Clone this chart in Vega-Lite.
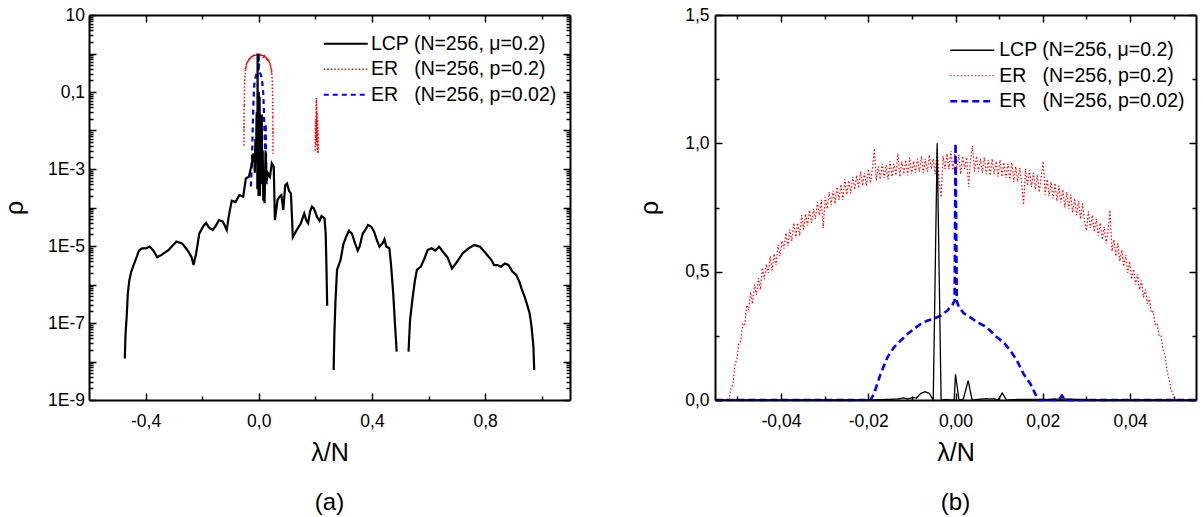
{
"$schema": "https://vega.github.io/schema/vega-lite/v6.json",
"background": "white",
"padding": {"left": 2, "top": 6, "right": 0, "bottom": 0},
"config": {
  "font": "Liberation Sans",
  "view": {"stroke": null},
  "axis": {"domainColor": "black", "domainWidth": 2, "tickColor": "black", "tickWidth": 1.5, "labelFont": "Liberation Sans", "labelFontSize": 17.5, "labelColor": "black", "titleFont": "Liberation Sans", "titleFontSize": 25, "titleFontWeight": "normal", "titleColor": "black", "grid": false, "labelOverlap": false, "labelFlush": false},
  "legend": {"labelLimit": 400, "padding": 0, "labelFont": "Liberation Sans", "labelFontSize": 19.5, "labelColor": "black", "rowPadding": 4.5},
  "title": {"font": "Liberation Sans", "fontSize": 24, "fontWeight": "normal", "color": "black"}
},
"datasets": {
"left": [
{"s":"LCP","g":1,"x":-0.4735,"y":1.2e-8},{"s":"LCP","g":1,"x":-0.4708,"y":5.4e-8},{"s":"LCP","g":1,"x":-0.4668,"y":1.46e-7},{"s":"LCP","g":1,"x":-0.4627,"y":5.9e-7},{"s":"LCP","g":1,"x":-0.4573,"y":1.31e-6},{"s":"LCP","g":1,"x":-0.4506,"y":2.15e-6},{"s":"LCP","g":1,"x":-0.4425,"y":3.2e-6},{"s":"LCP","g":1,"x":-0.433,"y":4.8e-6},{"s":"LCP","g":1,"x":-0.4236,"y":7.6e-6},{"s":"LCP","g":1,"x":-0.4128,"y":8.7e-6},{"s":"LCP","g":1,"x":-0.3993,"y":8.7e-6},{"s":"LCP","g":1,"x":-0.3858,"y":9.6e-6},{"s":"LCP","g":1,"x":-0.3723,"y":7.6e-6},{"s":"LCP","g":1,"x":-0.3588,"y":5.1e-6},{"s":"LCP","g":1,"x":-0.3453,"y":5.8e-6},{"s":"LCP","g":1,"x":-0.3183,"y":7.9e-6},{"s":"LCP","g":1,"x":-0.2913,"y":1.3e-5},{"s":"LCP","g":1,"x":-0.271,"y":1.17e-5},{"s":"LCP","g":1,"x":-0.2508,"y":7.6e-6},{"s":"LCP","g":1,"x":-0.2373,"y":5.1e-6},{"s":"LCP","g":1,"x":-0.2305,"y":3.2e-6},{"s":"LCP","g":1,"x":-0.2211,"y":6.5e-6},{"s":"LCP","g":1,"x":-0.2103,"y":2.1e-5},{"s":"LCP","g":1,"x":-0.1968,"y":3.2e-5},{"s":"LCP","g":1,"x":-0.186,"y":4.0e-5},{"s":"LCP","g":1,"x":-0.1765,"y":3.05e-5},{"s":"LCP","g":1,"x":-0.163,"y":2.6e-5},{"s":"LCP","g":1,"x":-0.1536,"y":3.2e-5},{"s":"LCP","g":1,"x":-0.1401,"y":4.7e-5},{"s":"LCP","g":1,"x":-0.1266,"y":4.3e-5},{"s":"LCP","g":1,"x":-0.1131,"y":2.6e-5},{"s":"LCP","g":1,"x":-0.1063,"y":5.8e-5},{"s":"LCP","g":1,"x":-0.0955,"y":1.5e-4},{"s":"LCP","g":1,"x":-0.082,"y":1.39e-4},{"s":"LCP","g":1,"x":-0.0685,"y":2.1e-4},{"s":"LCP","g":1,"x":-0.055,"y":1.9e-4},{"s":"LCP","g":1,"x":-0.0456,"y":5.7e-4},{"s":"LCP","g":1,"x":-0.0348,"y":6.3e-4},{"s":"LCP","g":1,"x":-0.0267,"y":1.15e-3},{"s":"LCP","g":1,"x":-0.0186,"y":2.55e-3},
{"s":"LCP","g":1,"x":-0.016,"y":2e-3},{"s":"LCP","g":1,"x":-0.014,"y":8e-4},{"s":"LCP","g":1,"x":-0.012,"y":6e-3},{"s":"LCP","g":1,"x":-0.010,"y":1.5e-3},{"s":"LCP","g":1,"x":-0.008,"y":0.02},{"s":"LCP","g":1,"x":-0.007,"y":0.03},{"s":"LCP","g":1,"x":-0.006,"y":0.02},{"s":"LCP","g":1,"x":-0.005,"y":3e-4},{"s":"LCP","g":1,"x":-0.0041,"y":1.0},{"s":"LCP","g":1,"x":-0.0033,"y":5e-4},{"s":"LCP","g":1,"x":-0.002,"y":0.005},{"s":"LCP","g":1,"x":-0.001,"y":2e-4},{"s":"LCP","g":1,"x":0.0,"y":0.1},{"s":"LCP","g":1,"x":0.001,"y":1e-3},{"s":"LCP","g":1,"x":0.002,"y":3e-4},{"s":"LCP","g":1,"x":0.003,"y":0.075},{"s":"LCP","g":1,"x":0.004,"y":2e-4},{"s":"LCP","g":1,"x":0.006,"y":0.004},{"s":"LCP","g":1,"x":0.008,"y":0.006},{"s":"LCP","g":1,"x":0.0095,"y":4e-4},{"s":"LCP","g":1,"x":0.0107,"y":0.026},{"s":"LCP","g":1,"x":0.012,"y":1e-3},{"s":"LCP","g":1,"x":0.014,"y":3e-3},{"s":"LCP","g":1,"x":0.016,"y":1.5e-4},{"s":"LCP","g":1,"x":0.018,"y":1e-3},{"s":"LCP","g":1,"x":0.0205,"y":1.3e-4},{"s":"LCP","g":1,"x":0.024,"y":3e-3},{"s":"LCP","g":1,"x":0.028,"y":5e-4},{"s":"LCP","g":1,"x":0.0327,"y":7.7e-4},{"s":"LCP","g":1,"x":0.0394,"y":6.3e-4},{"s":"LCP","g":1,"x":0.0462,"y":1.4e-3},{"s":"LCP","g":1,"x":0.0529,"y":1.15e-3},{"s":"LCP","g":1,"x":0.057,"y":4.7e-5},{"s":"LCP","g":1,"x":0.0664,"y":1.57e-4},{"s":"LCP","g":1,"x":0.0732,"y":1.9e-4},{"s":"LCP","g":1,"x":0.0799,"y":2.1e-4},{"s":"LCP","g":1,"x":0.0867,"y":8.6e-5},{"s":"LCP","g":1,"x":0.0934,"y":3.8e-4},{"s":"LCP","g":1,"x":0.1002,"y":4.2e-4},{"s":"LCP","g":1,"x":0.1069,"y":2.7e-4},{"s":"LCP","g":1,"x":0.1137,"y":2.3e-4},{"s":"LCP","g":1,"x":0.1204,"y":1.7e-5},{"s":"LCP","g":1,"x":0.1339,"y":2.6e-5},{"s":"LCP","g":1,"x":0.1474,"y":3.7e-5},{"s":"LCP","g":1,"x":0.1609,"y":7.0e-5},{"s":"LCP","g":1,"x":0.1677,"y":4.7e-5},{"s":"LCP","g":1,"x":0.1744,"y":3.9e-5},{"s":"LCP","g":1,"x":0.1812,"y":7.8e-5},{"s":"LCP","g":1,"x":0.1879,"y":1.05e-4},{"s":"LCP","g":1,"x":0.1947,"y":9.5e-5},{"s":"LCP","g":1,"x":0.2055,"y":5.8e-5},{"s":"LCP","g":1,"x":0.2149,"y":4.5e-5},{"s":"LCP","g":1,"x":0.2217,"y":6.0e-5},{"s":"LCP","g":1,"x":0.2325,"y":5.2e-5},{"s":"LCP","g":1,"x":0.2365,"y":2.1e-5},{"s":"LCP","g":1,"x":0.2392,"y":2.9e-6},{"s":"LCP","g":1,"x":0.2419,"y":2.8e-7},
{"s":"LCP","g":2,"x":0.2646,"y":6.0e-9},{"s":"LCP","g":2,"x":0.2673,"y":5.4e-8},{"s":"LCP","g":2,"x":0.2713,"y":4.0e-7},{"s":"LCP","g":2,"x":0.2767,"y":2.4e-6},{"s":"LCP","g":2,"x":0.2889,"y":4.3e-6},{"s":"LCP","g":2,"x":0.2997,"y":1.17e-5},{"s":"LCP","g":2,"x":0.3091,"y":1.75e-5},{"s":"LCP","g":2,"x":0.3186,"y":2.5e-5},{"s":"LCP","g":2,"x":0.3294,"y":2.1e-5},{"s":"LCP","g":2,"x":0.3402,"y":1.17e-5},{"s":"LCP","g":2,"x":0.3497,"y":7.6e-6},{"s":"LCP","g":2,"x":0.3564,"y":9.6e-6},{"s":"LCP","g":2,"x":0.3672,"y":2.1e-5},{"s":"LCP","g":2,"x":0.3767,"y":2.6e-5},{"s":"LCP","g":2,"x":0.3861,"y":3.5e-5},{"s":"LCP","g":2,"x":0.3969,"y":3.2e-5},{"s":"LCP","g":2,"x":0.4077,"y":2.35e-5},{"s":"LCP","g":2,"x":0.4172,"y":1.43e-5},{"s":"LCP","g":2,"x":0.4266,"y":9.6e-6},{"s":"LCP","g":2,"x":0.4374,"y":1.17e-5},{"s":"LCP","g":2,"x":0.4442,"y":1.49e-5},{"s":"LCP","g":2,"x":0.4509,"y":9.6e-6},{"s":"LCP","g":2,"x":0.4617,"y":8.7e-6},{"s":"LCP","g":2,"x":0.4671,"y":3.5e-6},{"s":"LCP","g":2,"x":0.4752,"y":5.9e-7},{"s":"LCP","g":2,"x":0.4806,"y":1.2e-7},{"s":"LCP","g":2,"x":0.4874,"y":1.8e-8},
{"s":"LCP","g":3,"x":0.5293,"y":1.8e-8},{"s":"LCP","g":3,"x":0.5347,"y":1.2e-7},{"s":"LCP","g":3,"x":0.5428,"y":4.0e-7},{"s":"LCP","g":3,"x":0.5522,"y":1.3e-6},{"s":"LCP","g":3,"x":0.559,"y":2.4e-6},{"s":"LCP","g":3,"x":0.5725,"y":2.9e-6},{"s":"LCP","g":3,"x":0.586,"y":4.8e-6},{"s":"LCP","g":3,"x":0.5968,"y":7.9e-6},{"s":"LCP","g":3,"x":0.6103,"y":8.7e-6},{"s":"LCP","g":3,"x":0.6238,"y":7.6e-6},{"s":"LCP","g":3,"x":0.6373,"y":9.6e-6},{"s":"LCP","g":3,"x":0.6508,"y":7.1e-6},{"s":"LCP","g":3,"x":0.667,"y":5.1e-6},{"s":"LCP","g":3,"x":0.6832,"y":2.6e-6},{"s":"LCP","g":3,"x":0.7008,"y":3.9e-6},{"s":"LCP","g":3,"x":0.7211,"y":6.5e-6},{"s":"LCP","g":3,"x":0.7413,"y":8.7e-6},{"s":"LCP","g":3,"x":0.7616,"y":1.06e-5},{"s":"LCP","g":3,"x":0.7818,"y":9.6e-6},{"s":"LCP","g":3,"x":0.8021,"y":6.5e-6},{"s":"LCP","g":3,"x":0.8223,"y":4.3e-6},{"s":"LCP","g":3,"x":0.8318,"y":3.2e-6},{"s":"LCP","g":3,"x":0.8426,"y":3.2e-6},{"s":"LCP","g":3,"x":0.8561,"y":2.9e-6},{"s":"LCP","g":3,"x":0.8696,"y":3.5e-6},{"s":"LCP","g":3,"x":0.8831,"y":3.2e-6},{"s":"LCP","g":3,"x":0.8966,"y":2.15e-6},{"s":"LCP","g":3,"x":0.9101,"y":1.77e-6},{"s":"LCP","g":3,"x":0.9209,"y":1.19e-6},{"s":"LCP","g":3,"x":0.9303,"y":7.2e-7},{"s":"LCP","g":3,"x":0.9398,"y":4.8e-7},{"s":"LCP","g":3,"x":0.9506,"y":2.65e-7},{"s":"LCP","g":3,"x":0.9573,"y":1.78e-7},{"s":"LCP","g":3,"x":0.9641,"y":8.0e-8},{"s":"LCP","g":3,"x":0.9708,"y":2.4e-8},{"s":"LCP","g":3,"x":0.9735,"y":6.0e-9},
{"s":"ER02","g":1,"x":-0.0522,"y":0.004},{"s":"ER02","g":1,"x":-0.0521,"y":0.015},{"s":"ER02","g":1,"x":-0.05195,"y":0.01},{"s":"ER02","g":1,"x":-0.0518,"y":0.03},{"s":"ER02","g":1,"x":-0.05145,"y":0.045},
{"s":"ER02","g":3,"x":0.0498,"y":0.022},{"s":"ER02","g":3,"x":0.05,"y":0.008},{"s":"ER02","g":3,"x":0.0502,"y":0.012},{"s":"ER02","g":3,"x":0.0503,"y":0.0025},
{"s":"ER02","g":2,"x":0.199,"y":0.003},{"s":"ER02","g":2,"x":0.2005,"y":0.02},{"s":"ER02","g":2,"x":0.202,"y":0.004},{"s":"ER02","g":2,"x":0.203,"y":0.05},{"s":"ER02","g":2,"x":0.204,"y":0.07},{"s":"ER02","g":2,"x":0.205,"y":0.005},{"s":"ER02","g":2,"x":0.206,"y":0.03},{"s":"ER02","g":2,"x":0.207,"y":0.003},{"s":"ER02","g":2,"x":0.208,"y":0.02},{"s":"ER02","g":2,"x":0.209,"y":0.0025},{"s":"ER02","g":2,"x":0.2095,"y":0.01},{"s":"ER02","g":2,"x":0.21,"y":0.0025},
{"s":"ER002","g":1,"x":-0.028,"y":3.5e-4},{"s":"ER002","g":1,"x":-0.025,"y":1e-3},{"s":"ER002","g":1,"x":-0.0225,"y":5e-3},{"s":"ER002","g":1,"x":-0.0205,"y":0.02},{"s":"ER002","g":1,"x":-0.0185,"y":0.06},{"s":"ER002","g":1,"x":-0.016,"y":0.15},{"s":"ER002","g":1,"x":-0.012,"y":0.23},{"s":"ER002","g":1,"x":-0.008,"y":0.29},{"s":"ER002","g":1,"x":-0.004,"y":0.32},{"s":"ER002","g":1,"x":-0.001,"y":0.36},{"s":"ER002","g":1,"x":0.0,"y":1.0},{"s":"ER002","g":1,"x":0.001,"y":0.37},{"s":"ER002","g":1,"x":0.004,"y":0.32},{"s":"ER002","g":1,"x":0.008,"y":0.27},{"s":"ER002","g":1,"x":0.012,"y":0.19},{"s":"ER002","g":1,"x":0.016,"y":0.09},{"s":"ER002","g":1,"x":0.018,"y":0.035},{"s":"ER002","g":1,"x":0.0205,"y":0.008},{"s":"ER002","g":1,"x":0.023,"y":3e-3},{"s":"ER002","g":1,"x":0.0245,"y":0.015},{"s":"ER002","g":1,"x":0.026,"y":1.5e-3},{"s":"ER002","g":1,"x":0.028,"y":4e-4}
],
"right": [
{"s":"ER02","x":-0.0519,"y":0},{"s":"ER02","x":-0.05145,"y":0.045},{"s":"ER02","x":-0.051,"y":0.06},{"s":"ER02","x":-0.05055,"y":0.135},{"s":"ER02","x":-0.0501,"y":0.16},{"s":"ER02","x":-0.04965,"y":0.22},{"s":"ER02","x":-0.0492,"y":0.23},{"s":"ER02","x":-0.04875,"y":0.295},{"s":"ER02","x":-0.0483,"y":0.29},{"s":"ER02","x":-0.04785,"y":0.37},{"s":"ER02","x":-0.0474,"y":0.35},{"s":"ER02","x":-0.04695,"y":0.42},{"s":"ER02","x":-0.0465,"y":0.375},{"s":"ER02","x":-0.04605,"y":0.45},{"s":"ER02","x":-0.0456,"y":0.41},{"s":"ER02","x":-0.04515,"y":0.475},{"s":"ER02","x":-0.0447,"y":0.43},{"s":"ER02","x":-0.04425,"y":0.515},{"s":"ER02","x":-0.0438,"y":0.47},{"s":"ER02","x":-0.04335,"y":0.53},{"s":"ER02","x":-0.0429,"y":0.495},{"s":"ER02","x":-0.04245,"y":0.56},{"s":"ER02","x":-0.042,"y":0.505},{"s":"ER02","x":-0.04155,"y":0.57},{"s":"ER02","x":-0.0411,"y":0.525},{"s":"ER02","x":-0.04065,"y":0.605},{"s":"ER02","x":-0.0402,"y":0.56},{"s":"ER02","x":-0.03975,"y":0.62},{"s":"ER02","x":-0.0393,"y":0.59},{"s":"ER02","x":-0.03885,"y":0.65},{"s":"ER02","x":-0.0384,"y":0.6},{"s":"ER02","x":-0.03795,"y":0.665},{"s":"ER02","x":-0.0375,"y":0.62},{"s":"ER02","x":-0.03705,"y":0.69},{"s":"ER02","x":-0.0366,"y":0.635},{"s":"ER02","x":-0.03615,"y":0.69},{"s":"ER02","x":-0.0357,"y":0.64},{"s":"ER02","x":-0.03525,"y":0.72},{"s":"ER02","x":-0.0348,"y":0.665},{"s":"ER02","x":-0.03435,"y":0.725},{"s":"ER02","x":-0.0339,"y":0.68},{"s":"ER02","x":-0.03345,"y":0.74},{"s":"ER02","x":-0.033,"y":0.69},{"s":"ER02","x":-0.03255,"y":0.745},{"s":"ER02","x":-0.0321,"y":0.705},{"s":"ER02","x":-0.03165,"y":0.77},{"s":"ER02","x":-0.0312,"y":0.72},{"s":"ER02","x":-0.03075,"y":0.78},{"s":"ER02","x":-0.0303,"y":0.67},{"s":"ER02","x":-0.02985,"y":0.79},{"s":"ER02","x":-0.0294,"y":0.745},{"s":"ER02","x":-0.02895,"y":0.81},{"s":"ER02","x":-0.0285,"y":0.76},{"s":"ER02","x":-0.02805,"y":0.815},{"s":"ER02","x":-0.0276,"y":0.765},{"s":"ER02","x":-0.02715,"y":0.83},{"s":"ER02","x":-0.0267,"y":0.78},{"s":"ER02","x":-0.02625,"y":0.84},{"s":"ER02","x":-0.0258,"y":0.78},{"s":"ER02","x":-0.02535,"y":0.86},{"s":"ER02","x":-0.0249,"y":0.8},{"s":"ER02","x":-0.02445,"y":0.855},{"s":"ER02","x":-0.024,"y":0.805},{"s":"ER02","x":-0.02355,"y":0.87},{"s":"ER02","x":-0.0231,"y":0.82},{"s":"ER02","x":-0.02265,"y":0.875},{"s":"ER02","x":-0.0222,"y":0.825},{"s":"ER02","x":-0.02175,"y":0.89},{"s":"ER02","x":-0.0213,"y":0.835},{"s":"ER02","x":-0.02085,"y":0.885},{"s":"ER02","x":-0.0204,"y":0.835},{"s":"ER02","x":-0.01995,"y":0.9},{"s":"ER02","x":-0.0195,"y":0.845},{"s":"ER02","x":-0.01905,"y":0.9},{"s":"ER02","x":-0.0186,"y":0.98},{"s":"ER02","x":-0.01815,"y":0.855},{"s":"ER02","x":-0.0177,"y":0.91},{"s":"ER02","x":-0.01725,"y":0.86},{"s":"ER02","x":-0.0168,"y":0.92},{"s":"ER02","x":-0.01635,"y":0.865},{"s":"ER02","x":-0.0159,"y":0.915},{"s":"ER02","x":-0.01545,"y":0.86},{"s":"ER02","x":-0.015,"y":0.93},{"s":"ER02","x":-0.01455,"y":0.87},{"s":"ER02","x":-0.0141,"y":0.92},{"s":"ER02","x":-0.01365,"y":0.875},{"s":"ER02","x":-0.0132,"y":0.96},{"s":"ER02","x":-0.01275,"y":0.87},{"s":"ER02","x":-0.0123,"y":0.93},{"s":"ER02","x":-0.01185,"y":0.88},{"s":"ER02","x":-0.0114,"y":0.935},{"s":"ER02","x":-0.01095,"y":0.875},{"s":"ER02","x":-0.0105,"y":0.945},{"s":"ER02","x":-0.01005,"y":0.88},{"s":"ER02","x":-0.0096,"y":0.93},{"s":"ER02","x":-0.00915,"y":0.885},{"s":"ER02","x":-0.0087,"y":0.94},{"s":"ER02","x":-0.00825,"y":0.89},{"s":"ER02","x":-0.0078,"y":0.95},{"s":"ER02","x":-0.00735,"y":0.885},{"s":"ER02","x":-0.0069,"y":0.94},{"s":"ER02","x":-0.00645,"y":0.89},{"s":"ER02","x":-0.006,"y":0.955},{"s":"ER02","x":-0.00555,"y":0.9},{"s":"ER02","x":-0.0051,"y":0.94},{"s":"ER02","x":-0.00465,"y":0.88},{"s":"ER02","x":-0.0042,"y":0.98},{"s":"ER02","x":-0.00375,"y":0.85},{"s":"ER02","x":-0.0033,"y":0.79},{"s":"ER02","x":-0.00285,"y":0.95},{"s":"ER02","x":-0.0024,"y":0.9},{"s":"ER02","x":-0.00195,"y":0.96},{"s":"ER02","x":-0.0015,"y":0.9},{"s":"ER02","x":-0.00105,"y":0.97},{"s":"ER02","x":-0.0006,"y":0.895},{"s":"ER02","x":-0.00015,"y":0.96},{"s":"ER02","x":0.0003,"y":0.9},{"s":"ER02","x":0.00075,"y":0.955},{"s":"ER02","x":0.0012,"y":0.88},{"s":"ER02","x":0.00165,"y":0.95},{"s":"ER02","x":0.0021,"y":0.9},{"s":"ER02","x":0.00255,"y":0.945},{"s":"ER02","x":0.003,"y":0.83},{"s":"ER02","x":0.00345,"y":0.94},{"s":"ER02","x":0.0039,"y":0.99},{"s":"ER02","x":0.00435,"y":0.89},{"s":"ER02","x":0.0048,"y":0.95},{"s":"ER02","x":0.00525,"y":0.89},{"s":"ER02","x":0.0057,"y":0.94},{"s":"ER02","x":0.00615,"y":0.885},{"s":"ER02","x":0.0066,"y":0.945},{"s":"ER02","x":0.00705,"y":0.88},{"s":"ER02","x":0.0075,"y":0.935},{"s":"ER02","x":0.00795,"y":0.875},{"s":"ER02","x":0.0084,"y":0.94},{"s":"ER02","x":0.00885,"y":0.88},{"s":"ER02","x":0.0093,"y":0.93},{"s":"ER02","x":0.00975,"y":0.87},{"s":"ER02","x":0.0102,"y":0.935},{"s":"ER02","x":0.01065,"y":0.87},{"s":"ER02","x":0.0111,"y":0.925},{"s":"ER02","x":0.01155,"y":0.865},{"s":"ER02","x":0.012,"y":0.92},{"s":"ER02","x":0.01245,"y":0.86},{"s":"ER02","x":0.0129,"y":0.925},{"s":"ER02","x":0.01335,"y":0.85},{"s":"ER02","x":0.0138,"y":0.91},{"s":"ER02","x":0.01425,"y":0.85},{"s":"ER02","x":0.0147,"y":0.905},{"s":"ER02","x":0.01515,"y":0.845},{"s":"ER02","x":0.0156,"y":0.76},{"s":"ER02","x":0.01605,"y":0.9},{"s":"ER02","x":0.0165,"y":0.835},{"s":"ER02","x":0.01695,"y":0.895},{"s":"ER02","x":0.0174,"y":0.83},{"s":"ER02","x":0.01785,"y":0.885},{"s":"ER02","x":0.0183,"y":0.82},{"s":"ER02","x":0.01875,"y":0.875},{"s":"ER02","x":0.0192,"y":0.81},{"s":"ER02","x":0.01965,"y":0.87},{"s":"ER02","x":0.0201,"y":0.93},{"s":"ER02","x":0.02055,"y":0.8},{"s":"ER02","x":0.021,"y":0.86},{"s":"ER02","x":0.02145,"y":0.795},{"s":"ER02","x":0.0219,"y":0.85},{"s":"ER02","x":0.02235,"y":0.785},{"s":"ER02","x":0.0228,"y":0.845},{"s":"ER02","x":0.02325,"y":0.775},{"s":"ER02","x":0.0237,"y":0.835},{"s":"ER02","x":0.02415,"y":0.77},{"s":"ER02","x":0.0246,"y":0.82},{"s":"ER02","x":0.02505,"y":0.75},{"s":"ER02","x":0.0255,"y":0.81},{"s":"ER02","x":0.02595,"y":0.745},{"s":"ER02","x":0.0264,"y":0.8},{"s":"ER02","x":0.02685,"y":0.73},{"s":"ER02","x":0.0273,"y":0.785},{"s":"ER02","x":0.02775,"y":0.72},{"s":"ER02","x":0.0282,"y":0.775},{"s":"ER02","x":0.02865,"y":0.705},{"s":"ER02","x":0.0291,"y":0.765},{"s":"ER02","x":0.02955,"y":0.695},{"s":"ER02","x":0.03,"y":0.66},{"s":"ER02","x":0.03045,"y":0.735},{"s":"ER02","x":0.0309,"y":0.67},{"s":"ER02","x":0.03135,"y":0.72},{"s":"ER02","x":0.0318,"y":0.655},{"s":"ER02","x":0.03225,"y":0.705},{"s":"ER02","x":0.0327,"y":0.64},{"s":"ER02","x":0.03315,"y":0.69},{"s":"ER02","x":0.0336,"y":0.625},{"s":"ER02","x":0.03405,"y":0.675},{"s":"ER02","x":0.0345,"y":0.61},{"s":"ER02","x":0.03495,"y":0.655},{"s":"ER02","x":0.0354,"y":0.74},{"s":"ER02","x":0.03585,"y":0.58},{"s":"ER02","x":0.0363,"y":0.625},{"s":"ER02","x":0.03675,"y":0.56},{"s":"ER02","x":0.0372,"y":0.61},{"s":"ER02","x":0.03765,"y":0.54},{"s":"ER02","x":0.0381,"y":0.585},{"s":"ER02","x":0.03855,"y":0.52},{"s":"ER02","x":0.039,"y":0.565},{"s":"ER02","x":0.03945,"y":0.495},{"s":"ER02","x":0.0399,"y":0.54},{"s":"ER02","x":0.04035,"y":0.47},{"s":"ER02","x":0.0408,"y":0.51},{"s":"ER02","x":0.04125,"y":0.45},{"s":"ER02","x":0.0417,"y":0.49},{"s":"ER02","x":0.04215,"y":0.43},{"s":"ER02","x":0.0426,"y":0.465},{"s":"ER02","x":0.04305,"y":0.4},{"s":"ER02","x":0.0435,"y":0.43},{"s":"ER02","x":0.04395,"y":0.375},{"s":"ER02","x":0.0444,"y":0.4},{"s":"ER02","x":0.04485,"y":0.34},{"s":"ER02","x":0.0453,"y":0.345},{"s":"ER02","x":0.04575,"y":0.295},{"s":"ER02","x":0.0462,"y":0.3},{"s":"ER02","x":0.04665,"y":0.25},{"s":"ER02","x":0.0471,"y":0.25},{"s":"ER02","x":0.04755,"y":0.195},{"s":"ER02","x":0.048,"y":0.175},{"s":"ER02","x":0.04845,"y":0.115},{"s":"ER02","x":0.0489,"y":0.085},{"s":"ER02","x":0.04935,"y":0.045},{"s":"ER02","x":0.0498,"y":0.022},{"s":"ER02","x":0.0503,"y":0},
{"s":"ER002","x":-0.055,"y":0},{"s":"ER002","x":-0.0195,"y":0},{"s":"ER002","x":-0.0187,"y":0.023},{"s":"ER002","x":-0.0172,"y":0.1},{"s":"ER002","x":-0.0156,"y":0.166},{"s":"ER002","x":-0.0141,"y":0.205},{"s":"ER002","x":-0.0126,"y":0.231},{"s":"ER002","x":-0.011,"y":0.257},{"s":"ER002","x":-0.0095,"y":0.277},{"s":"ER002","x":-0.008,"y":0.296},{"s":"ER002","x":-0.0065,"y":0.309},{"s":"ER002","x":-0.005,"y":0.316},{"s":"ER002","x":-0.0034,"y":0.329},{"s":"ER002","x":-0.0019,"y":0.348},{"s":"ER002","x":-0.0008,"y":0.368},{"s":"ER002","x":-0.0002,"y":0.387},{"s":"ER002","x":0.0,"y":1.0},{"s":"ER002","x":0.0003,"y":0.385},{"s":"ER002","x":0.0008,"y":0.361},{"s":"ER002","x":0.0019,"y":0.338},{"s":"ER002","x":0.0034,"y":0.322},{"s":"ER002","x":0.005,"y":0.303},{"s":"ER002","x":0.0065,"y":0.29},{"s":"ER002","x":0.008,"y":0.27},{"s":"ER002","x":0.0095,"y":0.244},{"s":"ER002","x":0.011,"y":0.225},{"s":"ER002","x":0.0126,"y":0.192},{"s":"ER002","x":0.0141,"y":0.153},{"s":"ER002","x":0.0156,"y":0.101},{"s":"ER002","x":0.0172,"y":0.062},{"s":"ER002","x":0.0183,"y":0.023},{"s":"ER002","x":0.0191,"y":0},{"s":"ER002","x":0.0236,"y":0},{"s":"ER002","x":0.0244,"y":0.017},{"s":"ER002","x":0.0252,"y":0},{"s":"ER002","x":0.055,"y":0},
{"s":"LCP","x":-0.055,"y":0},{"s":"LCP","x":-0.02,"y":0},{"s":"LCP","x":-0.016,"y":0.002},{"s":"LCP","x":-0.013,"y":0.004},{"s":"LCP","x":-0.012,"y":0.008},{"s":"LCP","x":-0.011,"y":0.004},{"s":"LCP","x":-0.0095,"y":0.01},{"s":"LCP","x":-0.009,"y":0.007},{"s":"LCP","x":-0.008,"y":0.025},{"s":"LCP","x":-0.007,"y":0.032},{"s":"LCP","x":-0.006,"y":0.026},{"s":"LCP","x":-0.0054,"y":0.008},{"s":"LCP","x":-0.0051,"y":0},{"s":"LCP","x":-0.0042,"y":1.0},{"s":"LCP","x":-0.0033,"y":0},{"s":"LCP","x":-0.002,"y":0.002},{"s":"LCP","x":-0.0008,"y":0},{"s":"LCP","x":-0.0003,"y":0},{"s":"LCP","x":0.0,"y":0.1},{"s":"LCP","x":0.0008,"y":0},{"s":"LCP","x":0.0018,"y":0.004},{"s":"LCP","x":0.0029,"y":0.075},{"s":"LCP","x":0.0038,"y":0},{"s":"LCP","x":0.005,"y":0.002},{"s":"LCP","x":0.007,"y":0.005},{"s":"LCP","x":0.0088,"y":0.004},{"s":"LCP","x":0.0098,"y":0.001},{"s":"LCP","x":0.0107,"y":0.027},{"s":"LCP","x":0.0117,"y":0},{"s":"LCP","x":0.014,"y":0.002},{"s":"LCP","x":0.02,"y":0.002},{"s":"LCP","x":0.025,"y":0.004},{"s":"LCP","x":0.028,"y":0.002},{"s":"LCP","x":0.032,"y":0},{"s":"LCP","x":0.055,"y":0}
]
},
"spacing": 145,
"bounds": "flush",
"resolve": {"scale": {"color": "independent", "strokeDash": "independent", "strokeWidth": "independent"}, "legend": {"color": "independent", "strokeDash": "independent", "strokeWidth": "independent"}},
"hconcat": [
{
  "width": 481, "height": 385,
  "title": {"text": "(a)", "orient": "bottom", "frame": "group", "anchor": "middle", "offset": 25},
  "data": {"name": "left"},
  "encoding": {
    "color": {"field": "s", "type": "nominal", "title": null, "scale": {"domain": ["LCP", "ER02", "ER002"], "range": ["#000000", "#ff0000", "#0000ff"]}, "legend": {"orient": "none", "legendX": 247, "legendY": 19, "labelOffset": 15.4, "symbolType": "M-4,0L4,0", "symbolSize": 121, "labelExpr": "datum.value == 'LCP' ? 'LCP (N=256, μ=0.2)' : datum.value == 'ER02' ? 'ER\u00a0\u00a0\u00a0(N=256, p=0.2)' : 'ER\u00a0\u00a0\u00a0(N=256, p=0.02)'"}},
    "strokeDash": {"field": "s", "type": "nominal", "title": null, "scale": {"domain": ["LCP", "ER02", "ER002"], "range": [[1, 0], [1.5, 2], [5, 4]]}, "legend": {"orient": "none", "legendX": 247, "legendY": 19, "labelOffset": 15.4, "symbolType": "M-4,0L4,0", "symbolSize": 121, "labelExpr": "datum.value == 'LCP' ? 'LCP (N=256, μ=0.2)' : datum.value == 'ER02' ? 'ER\u00a0\u00a0\u00a0(N=256, p=0.2)' : 'ER\u00a0\u00a0\u00a0(N=256, p=0.02)'"}},
    "strokeWidth": {"field": "s", "type": "nominal", "title": null, "scale": {"type": "ordinal", "domain": ["LCP", "ER02", "ER002"], "range": [2.2, 1.5, 2.2]}, "legend": {"orient": "none", "legendX": 247, "legendY": 19, "labelOffset": 15.4, "symbolType": "M-4,0L4,0", "symbolSize": 121, "labelExpr": "datum.value == 'LCP' ? 'LCP (N=256, μ=0.2)' : datum.value == 'ER02' ? 'ER\u00a0\u00a0\u00a0(N=256, p=0.2)' : 'ER\u00a0\u00a0\u00a0(N=256, p=0.02)'"}},
    "detail": {"field": "g", "type": "nominal"}
  },
  "layer": [
    {
      "data": {"name": "right"},
      "transform": [{"filter": "datum.s == 'ER02' && datum.y > 0"}],
      "mark": {"type": "line"},
      "encoding": {
        "x": {"field": "x", "type": "quantitative", "scale": {"domain": [-0.6, 1.1], "nice": false, "zero": false}, "axis": {"orient": "bottom", "title": "λ/N", "values": [-0.4, -0.2, 0, 0.2, 0.4, 0.6, 0.8, 1.0], "tickSize": {"condition": {"test": "abs(round(datum.value*10) % 4) < 0.5", "value": -7}, "value": -4}, "labelExpr": "abs(round(datum.value*10) % 4) < 0.5 ? (datum.value < -0.001 ? '-' : '') + replace(format(abs(datum.value), '.1f'), '.', ',') : ''", "labelPadding": 19, "titlePadding": 8}},
        "y": {"field": "y", "type": "quantitative", "scale": {"type": "log", "domain": [1e-9, 10], "nice": false}, "axis": {"orient": "left", "title": "ρ", "values": [1e-9,2e-9,3e-9,4e-9,5e-9,6e-9,7e-9,8e-9,9e-9,1e-8,2e-8,3e-8,4e-8,5e-8,6e-8,7e-8,8e-8,9e-8,1e-7,2e-7,3e-7,4e-7,5e-7,6e-7,7e-7,8e-7,9e-7,1e-6,2e-6,3e-6,4e-6,5e-6,6e-6,7e-6,8e-6,9e-6,1e-5,2e-5,3e-5,4e-5,5e-5,6e-5,7e-5,8e-5,9e-5,1e-4,2e-4,3e-4,4e-4,5e-4,6e-4,7e-4,8e-4,9e-4,0.001,0.002,0.003,0.004,0.005,0.006,0.007,0.008,0.009,0.01,0.02,0.03,0.04,0.05,0.06,0.07,0.08,0.09,0.1,0.2,0.3,0.4,0.5,0.6,0.7,0.8,0.9,1,2,3,4,5,6,7,8,9,10], "tickSize": {"condition": {"test": "abs(log(datum.value)/LN10 - round(log(datum.value)/LN10)) < 0.01", "value": -7}, "value": -4}, "labelExpr": "abs(log(datum.value)/LN10 - round(log(datum.value)/LN10)) < 0.01 && abs(round(log(datum.value)/LN10) % 2) == 1 ? (round(log(datum.value)/LN10) == 1 ? '10' : (round(log(datum.value)/LN10) == -1 ? '0,1' : '1E' + round(log(datum.value)/LN10))) : ''", "labelPadding": 11.5, "titlePadding": 20}}
      }
    },
    {
      "transform": [{"filter": "datum.s == 'ER02'"}],
      "mark": {"type": "line"},
      "encoding": {
        "x": {"field": "x", "type": "quantitative", "scale": {"domain": [-0.6, 1.1], "nice": false, "zero": false}, "axis": null},
        "y": {"field": "y", "type": "quantitative", "scale": {"type": "log", "domain": [1e-9, 10], "nice": false}, "axis": null}
      }
    },
    {
      "transform": [{"filter": "datum.s == 'ER002'"}],
      "mark": {"type": "line"},
      "encoding": {
        "x": {"field": "x", "type": "quantitative", "scale": {"domain": [-0.6, 1.1], "nice": false, "zero": false}, "axis": {"orient": "top", "title": null, "labels": false, "values": [-0.4, -0.2, 0, 0.2, 0.4, 0.6, 0.8, 1.0], "tickSize": {"condition": {"test": "abs(round(datum.value*10) % 4) < 0.5", "value": -7}, "value": -4}}},
        "y": {"field": "y", "type": "quantitative", "scale": {"type": "log", "domain": [1e-9, 10], "nice": false}, "axis": {"orient": "right", "title": null, "labels": false, "values": [1e-9,2e-9,3e-9,4e-9,5e-9,6e-9,7e-9,8e-9,9e-9,1e-8,2e-8,3e-8,4e-8,5e-8,6e-8,7e-8,8e-8,9e-8,1e-7,2e-7,3e-7,4e-7,5e-7,6e-7,7e-7,8e-7,9e-7,1e-6,2e-6,3e-6,4e-6,5e-6,6e-6,7e-6,8e-6,9e-6,1e-5,2e-5,3e-5,4e-5,5e-5,6e-5,7e-5,8e-5,9e-5,1e-4,2e-4,3e-4,4e-4,5e-4,6e-4,7e-4,8e-4,9e-4,0.001,0.002,0.003,0.004,0.005,0.006,0.007,0.008,0.009,0.01,0.02,0.03,0.04,0.05,0.06,0.07,0.08,0.09,0.1,0.2,0.3,0.4,0.5,0.6,0.7,0.8,0.9,1,2,3,4,5,6,7,8,9,10], "tickSize": {"condition": {"test": "abs(log(datum.value)/LN10 - round(log(datum.value)/LN10)) < 0.01", "value": -7}, "value": -4}}}
      }
    },
    {
      "transform": [{"filter": "datum.s == 'LCP'"}],
      "mark": {"type": "line"},
      "encoding": {
        "x": {"field": "x", "type": "quantitative", "scale": {"domain": [-0.6, 1.1], "nice": false, "zero": false}, "axis": null},
        "y": {"field": "y", "type": "quantitative", "scale": {"type": "log", "domain": [1e-9, 10], "nice": false}, "axis": null}
      }
    }
  ],
  "resolve": {"axis": {"x": "independent", "y": "independent"}}
},
{
  "width": 481, "height": 385,
  "title": {"text": "(b)", "orient": "bottom", "frame": "group", "anchor": "middle", "offset": 25},
  "data": {"name": "right"},
  "encoding": {
    "color": {"field": "s", "type": "nominal", "title": null, "scale": {"domain": ["LCP", "ER02", "ER002"], "range": ["#000000", "#ff0000", "#0000ff"]}, "legend": {"orient": "none", "legendX": 247.5, "legendY": 25.5, "labelOffset": 17.2, "symbolType": "M-4,0L4,0", "symbolSize": 121, "labelExpr": "datum.value == 'LCP' ? 'LCP (N=256, μ=0.2)' : datum.value == 'ER02' ? 'ER\u00a0\u00a0\u00a0(N=256, p=0.2)' : 'ER\u00a0\u00a0\u00a0(N=256, p=0.02)'"}},
    "strokeDash": {"field": "s", "type": "nominal", "title": null, "scale": {"domain": ["LCP", "ER02", "ER002"], "range": [[1, 0], [1.5, 2], [7, 4]]}, "legend": {"orient": "none", "legendX": 247.5, "legendY": 25.5, "labelOffset": 17.2, "symbolType": "M-4,0L4,0", "symbolSize": 121, "labelExpr": "datum.value == 'LCP' ? 'LCP (N=256, μ=0.2)' : datum.value == 'ER02' ? 'ER\u00a0\u00a0\u00a0(N=256, p=0.2)' : 'ER\u00a0\u00a0\u00a0(N=256, p=0.02)'"}},
    "strokeWidth": {"field": "s", "type": "nominal", "title": null, "scale": {"type": "ordinal", "domain": ["LCP", "ER02", "ER002"], "range": [1.3, 1.2, 2.6]}, "legend": {"orient": "none", "legendX": 247.5, "legendY": 25.5, "labelOffset": 17.2, "symbolType": "M-4,0L4,0", "symbolSize": 121, "labelExpr": "datum.value == 'LCP' ? 'LCP (N=256, μ=0.2)' : datum.value == 'ER02' ? 'ER\u00a0\u00a0\u00a0(N=256, p=0.2)' : 'ER\u00a0\u00a0\u00a0(N=256, p=0.02)'"}}
  },
  "layer": [
    {
      "transform": [{"filter": "datum.s == 'ER02'"}],
      "mark": {"type": "line"},
      "encoding": {
        "x": {"field": "x", "type": "quantitative", "scale": {"domain": [-0.0551, 0.0551], "nice": false, "zero": false}, "axis": {"orient": "bottom", "title": "λ/N", "values": [-0.05, -0.04, -0.03, -0.02, -0.01, 0, 0.01, 0.02, 0.03, 0.04, 0.05], "tickSize": {"condition": {"test": "abs(round(datum.value*100) % 2) < 0.5", "value": -7}, "value": -4}, "labelExpr": "abs(round(datum.value*100) % 2) < 0.5 ? (datum.value < -0.0001 ? '-' : '') + replace(format(abs(datum.value), '.2f'), '.', ',') : ''", "labelPadding": 19, "titlePadding": 8}},
        "y": {"field": "y", "type": "quantitative", "scale": {"domain": [0, 1.5], "nice": false}, "axis": {"orient": "left", "title": "ρ", "values": [0, 0.25, 0.5, 0.75, 1, 1.25, 1.5], "tickSize": {"condition": {"test": "abs(round(datum.value*4) % 2) < 0.5", "value": -7}, "value": -4}, "labelExpr": "abs(round(datum.value*4) % 2) < 0.5 ? replace(format(datum.value, '.1f'), '.', ',') : ''", "labelPadding": 13, "titlePadding": 22}}
      }
    },
    {
      "transform": [{"filter": "datum.s == 'ER002'"}],
      "mark": {"type": "line"},
      "encoding": {
        "x": {"field": "x", "type": "quantitative", "scale": {"domain": [-0.0551, 0.0551], "nice": false, "zero": false}, "axis": {"orient": "top", "title": null, "labels": false, "values": [-0.05, -0.04, -0.03, -0.02, -0.01, 0, 0.01, 0.02, 0.03, 0.04, 0.05], "tickSize": {"condition": {"test": "abs(round(datum.value*100) % 2) < 0.5", "value": -7}, "value": -4}}},
        "y": {"field": "y", "type": "quantitative", "scale": {"domain": [0, 1.5], "nice": false}, "axis": {"orient": "right", "title": null, "labels": false, "values": [0, 0.25, 0.5, 0.75, 1, 1.25, 1.5], "tickSize": {"condition": {"test": "abs(round(datum.value*4) % 2) < 0.5", "value": -7}, "value": -4}}}
      }
    },
    {
      "transform": [{"filter": "datum.s == 'LCP'"}],
      "mark": {"type": "line"},
      "encoding": {
        "x": {"field": "x", "type": "quantitative", "scale": {"domain": [-0.0551, 0.0551], "nice": false, "zero": false}, "axis": null},
        "y": {"field": "y", "type": "quantitative", "scale": {"domain": [0, 1.5], "nice": false}, "axis": null}
      }
    }
  ],
  "resolve": {"axis": {"x": "independent", "y": "independent"}}
}
]
}
